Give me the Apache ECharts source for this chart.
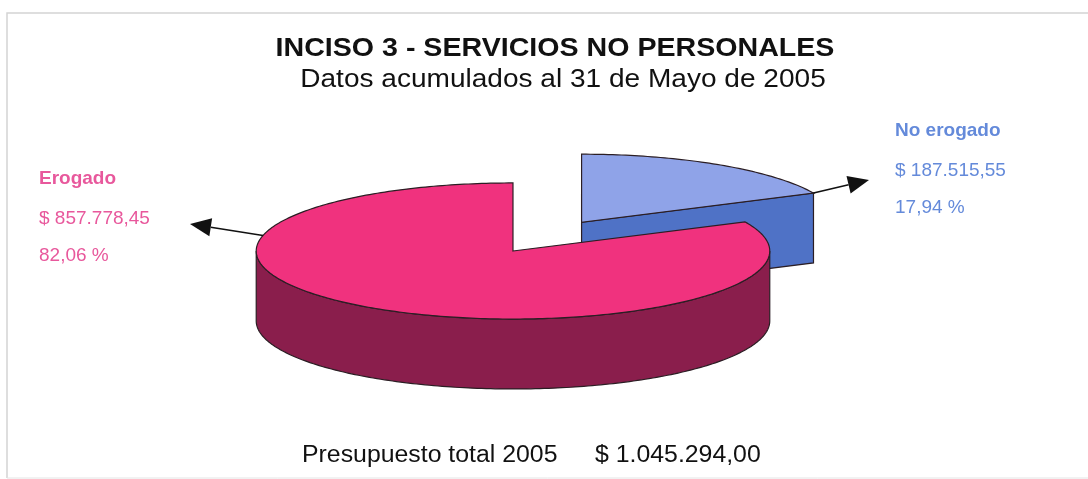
<!DOCTYPE html>
<html>
<head>
<meta charset="utf-8">
<script src="https://cdn.jsdelivr.net/npm/echarts@6/dist/echarts.min.js"></script>
<style>
  html, body { margin: 0; padding: 0; background: #fff; }
  #chart { width: 1088px; height: 479px; }
</style>
</head>
<body>
<div id="chart"></div>
<script>
// datos (orden horario desde las 12)
const categories = ['No erogado', 'Erogado'];
const values = [187515.55, 857778.45];
const titleText = 'INCISO 3 - SERVICIOS NO PERSONALES';
const subtitleText = 'Datos acumulados al 31 de Mayo de 2005';
const footerLabel = 'Presupuesto total 2005';

const total = values.reduce((a, b) => a + b, 0);
const startAngles = [];
values.reduce((acc, v, i) => { startAngles[i] = acc / total * 360; return acc + v; }, 0);

// estilo / layout
const topColors = ['#8FA3E8', '#F0327E'];
const sideColors = ['#4F72C6', '#8A1E4C'];
const labelColors = ['#648ADA', '#E8589C'];
const explode = [0.5, 0];
const pie = { cx: 0.4715, cy: 0.524, rx: 0.236, tilt: 0.265, depth: 0.146 };
const arrowAt = [1.0, 0.74];
const arrowTip = [[869, 180], [190, 224]];
const labelPos = [{ x: 895, y: 131 }, { x: 39, y: 179 }];
const lineGap = [0, 40, 77];
const FONT = '"Liberation Sans", Arial, sans-serif';

function money(v) {
  const p = v.toFixed(2).split('.');
  return '$ ' + p[0].replace(/\B(?=(\d{3})+(?!\d))/g, '.') + ',' + p[1];
}
function pct(v) {
  return (v / total * 100).toFixed(2).replace('.', ',') + ' %';
}

const D = Math.PI / 180;

function renderItem(params, api) {
  const i = params.dataIndex;
  const W = api.getWidth(), H = api.getHeight();
  const rx = W * pie.rx, ry = rx * pie.tilt, dz = H * pie.depth;
  const a0 = startAngles[i];
  const a1 = a0 + api.value(0) / total * 360;
  const mid = (a0 + a1) / 2 * D;
  const cx = W * pie.cx + explode[i] * rx * Math.sin(mid);
  const cy = H * pie.cy - explode[i] * ry * Math.cos(mid);
  const rim = (deg, h) => [cx + rx * Math.sin(deg * D), cy - ry * Math.cos(deg * D) + (h || 0)];
  const arc = (from, to, h) => {
    const pts = [];
    const n = Math.max(2, Math.ceil(Math.abs(to - from)));
    for (let k = 0; k <= n; k++) pts.push(rim(from + (to - from) * k / n, h));
    return pts;
  };
  const base = Math.round(10 - 8 * Math.cos(mid));
  const stroke = '#2b1e24';
  const children = [];

  // pared exterior visible (90..270)
  const w0 = Math.max(a0, 90), w1 = Math.min(a1, 270);
  if (w1 > w0) {
    const pts = arc(w0, w1, 0).concat(arc(w1, w0, dz));
    children.push({ type: 'polygon', z2: base, shape: { points: pts },
      style: { fill: sideColors[i], stroke: stroke, lineWidth: 1.2 } });
  }
  // caras radiales
  if (Math.sin(a1 * D) > 0.01) {
    const p = rim(a1);
    children.push({ type: 'polygon', z2: base, shape: { points: [[cx, cy], p, [p[0], p[1] + dz], [cx, cy + dz]] },
      style: { fill: sideColors[i], stroke: stroke, lineWidth: 1.2 } });
  }
  if (Math.sin(a0 * D) < -0.01) {
    const p = rim(a0);
    children.push({ type: 'polygon', z2: base, shape: { points: [[cx, cy], p, [p[0], p[1] + dz], [cx, cy + dz]] },
      style: { fill: sideColors[i], stroke: stroke, lineWidth: 1.2 } });
  }
  // cara superior
  children.push({ type: 'polygon', z2: base + 1, shape: { points: [[cx, cy]].concat(arc(a0, a1, 0)) },
    style: { fill: topColors[i], stroke: stroke, lineWidth: 1.2 } });

  // flecha
  const from = rim(a0 + (a1 - a0) * arrowAt[i]);
  const tip = arrowTip[i];
  const ang = Math.atan2(tip[1] - from[1], tip[0] - from[0]);
  const hl = 21, hw = 9;
  const bx = tip[0] - hl * Math.cos(ang), by = tip[1] - hl * Math.sin(ang);
  children.push({ type: 'line', z2: 40, shape: { x1: from[0], y1: from[1], x2: bx, y2: by },
    style: { stroke: '#111', lineWidth: 1.6 } });
  children.push({ type: 'polygon', z2: 40, shape: { points: [tip,
    [bx + hw * Math.sin(ang), by - hw * Math.cos(ang)],
    [bx - hw * Math.sin(ang), by + hw * Math.cos(ang)]] },
    style: { fill: '#111' } });

  // etiquetas
  const lp = labelPos[i];
  const lines = [categories[i], money(api.value(0)), pct(api.value(0))];
  lines.forEach((t, k) => {
    children.push({ type: 'text', z2: 40, x: lp.x, y: lp.y + lineGap[k], style: {
      text: t, fill: labelColors[i], align: 'left', verticalAlign: 'middle',
      font: (k === 0 ? 'bold ' : '') + '19px ' + FONT
    } });
  });

  return { type: 'group', children: children };
}

const chart = echarts.init(document.getElementById('chart'));
chart.setOption({
  animation: false,
  backgroundColor: '#fff',
  graphic: [
    { type: 'polyline', shape: { points: [[7, 478], [7, 13], [1088, 13]] },
      style: { stroke: '#d4d4d4', lineWidth: 1.5, fill: null } },
    { type: 'line', shape: { x1: 7, y1: 478, x2: 1088, y2: 478 },
      style: { stroke: '#e4e4e4', lineWidth: 1 } },
    { type: 'text', x: 555, y: 49, scaleX: 1.1, style: { text: titleText, align: 'center', verticalAlign: 'middle',
      fill: '#111', font: 'bold 26px ' + FONT } },
    { type: 'text', x: 563, y: 80, scaleX: 1.1, style: { text: subtitleText, align: 'center', verticalAlign: 'middle',
      fill: '#111', font: '25.5px ' + FONT } },
    { type: 'text', x: 302, y: 456, scaleX: 1.08, style: { text: footerLabel, align: 'left', verticalAlign: 'middle',
      fill: '#111', font: '23px ' + FONT } },
    { type: 'text', x: 595, y: 456, scaleX: 1.08, style: { text: money(total), align: 'left', verticalAlign: 'middle',
      fill: '#111', font: '23px ' + FONT } }
  ],
  series: [{
    type: 'custom',
    coordinateSystem: 'none',
    renderItem: renderItem,
    data: values.map((v, i) => ({ name: categories[i], value: [v] }))
  }]
});
</script>
</body>
</html>
